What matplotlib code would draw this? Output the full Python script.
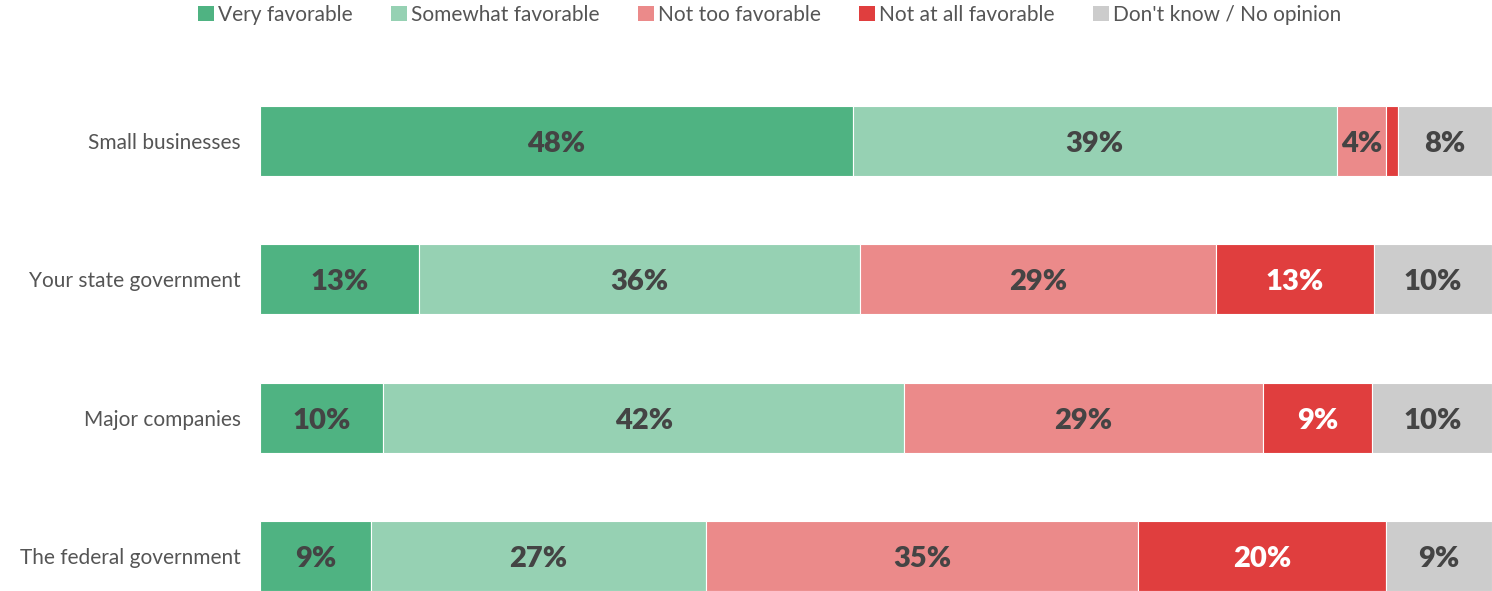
import numpy as np
import matplotlib
matplotlib.use("Agg")
import matplotlib.pyplot as plt
from matplotlib.patches import Patch

plt.rcParams["font.family"] = ["Lato", "DejaVu Sans"]

categories = ["Small businesses", "Your state government", "Major companies", "The federal government"]
series = ["Very favorable", "Somewhat favorable", "Not too favorable", "Not at all favorable", "Don't know / No opinion"]
very_fav = [48.1, 12.9, 10.0, 9.0]
somewhat_fav = [39.3, 35.8, 42.3, 27.2]
not_too_fav = [4.0, 28.9, 29.1, 35.1]
not_at_all_fav = [1.0, 12.8, 8.9, 20.1]
dont_know = [7.6, 9.6, 9.7, 8.6]

colors = ["#4FB382", "#96D1B3", "#EB8A8A", "#E03E3E", "#CCCCCC"]
text_colors = ["#444444", "#444444", "#444444", "#FFFFFF", "#444444"]

fig = plt.figure(figsize=(14.92, 5.91), dpi=100)
ax = fig.add_axes([260 / 1492, 0, 1 - 260 / 1492, (591 - 60) / 591])

y = np.arange(len(categories))
left = np.zeros(len(categories))
for vals, col, tc in zip([very_fav, somewhat_fav, not_too_fav, not_at_all_fav, dont_know], colors, text_colors):
    vals = np.array(vals)
    ax.barh(y, vals, left=left, height=0.505, color=col, edgecolor="white", linewidth=0.8)
    for yi, l, v in zip(y, left, vals):
        if v >= 3:
            ax.text(l + v / 2, yi + 0.02, f"{round(v):d}%", ha="center", va="center",
                    fontsize=21, fontweight="heavy", color=tc)
    left += vals

ax.set_xlim(0, left.max())
ax.set_ylim(3.25, -0.584)
ax.set_yticks(y)
ax.set_yticklabels(categories, fontsize=15, color="#555555")
ax.tick_params(axis="y", length=0, pad=14)
ax.set_xticks([])
for s in ax.spines.values():
    s.set_visible(False)

handles = [Patch(facecolor=c, edgecolor="none") for c in colors]
fig.legend(handles, series, loc="upper center", bbox_to_anchor=(0.516, 1.024), ncol=5,
           frameon=False, fontsize=15, labelcolor="#555555", handlelength=0.75, handleheight=0.75,
           handletextpad=0.2, columnspacing=1.85)

fig.savefig("out.png", dpi=100)
